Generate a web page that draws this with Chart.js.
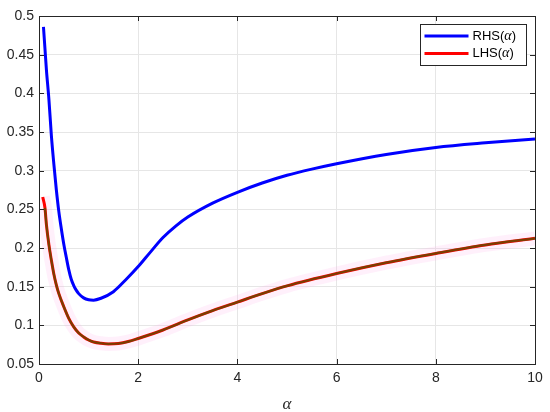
<!DOCTYPE html>
<html>
<head>
<meta charset="utf-8">
<script src="https://cdn.jsdelivr.net/npm/chart.js@4.4.1/dist/chart.umd.min.js"></script>
<style>
  body { margin: 0; background: #fff; }
  #wrap { width: 550px; height: 412px; }
</style>
</head>
<body>
<div id="wrap"><canvas id="rhs-lhs-chart" width="550" height="412"></canvas></div>
<script>
// values
var rhsAlpha = [0.09, 0.12, 0.15, 0.2, 0.25, 0.3, 0.35, 0.4, 0.45, 0.5, 0.55, 0.6, 0.65, 0.7, 0.75, 0.8, 0.9, 1.0, 1.1, 1.25, 1.5, 1.75, 2.0, 2.25, 2.5, 2.75, 3, 3.5, 4, 4.5, 5, 5.5, 6, 7, 8, 9, 10];
var rhsValues = [0.486, 0.458, 0.430, 0.392, 0.345, 0.308, 0.275, 0.247, 0.225, 0.205, 0.188, 0.172, 0.1595, 0.1515, 0.1455, 0.141, 0.1355, 0.133, 0.1325, 0.135, 0.1435, 0.159, 0.176, 0.195, 0.2135, 0.228, 0.240, 0.258, 0.272, 0.284, 0.294, 0.302, 0.309, 0.321, 0.330, 0.336, 0.341];

var lhsAlpha = [0.075, 0.12, 0.15, 0.2, 0.25, 0.3, 0.35, 0.4, 0.5, 0.6, 0.7, 0.8, 0.9, 1.0, 1.1, 1.25, 1.4, 1.6, 1.8, 2.0, 2.5, 3, 3.5, 4, 4.5, 5, 6, 7, 8, 9, 10];
var lhsValues = [0.266, 0.252, 0.230, 0.204, 0.184, 0.166, 0.152, 0.141, 0.124, 0.109, 0.098, 0.090, 0.085, 0.081, 0.0785, 0.0768, 0.076, 0.0765, 0.079, 0.083, 0.094, 0.107, 0.119, 0.130, 0.141, 0.151, 0.167, 0.181, 0.193, 0.204, 0.2125];

var xTicks = [0, 2, 4, 6, 8, 10];
var yTicks = [0.05, 0.1, 0.15, 0.2, 0.25, 0.3, 0.35, 0.4, 0.45, 0.5];
var legendLabels = ['RHS', 'LHS'];

function toPoints(xs, ys) {
	return xs.map((x, i) => ({ x: x, y: ys[i] }));
}

var axisColor = '#262626';
var sans = "'Liberation Sans', Arial, sans-serif";
var serif = "'Liberation Serif', 'DejaVu Serif', serif";

// MATLAB style box with inward ticks, and the legend in the corner
var boxPlugin = {
	id: 'matlabBox',
	afterDraw(chart) {
		var c = chart.ctx, a = chart.chartArea;
		var xs = chart.scales.x, ys = chart.scales.y;
		c.save();
		c.strokeStyle = axisColor;
		c.lineWidth = 1;
		c.strokeRect(Math.round(a.left) + 0.5, Math.round(a.top) + 0.5, Math.round(a.right - a.left), Math.round(a.bottom - a.top));
		c.beginPath();
		xTicks.forEach(v => {
			var px = Math.round(xs.getPixelForValue(v)) + 0.5;
			c.moveTo(px, a.bottom); c.lineTo(px, a.bottom - 5);
			c.moveTo(px, a.top); c.lineTo(px, a.top + 5);
		});
		yTicks.forEach(v => {
			var py = Math.round(ys.getPixelForValue(v)) + 0.5;
			c.moveTo(a.left, py); c.lineTo(a.left + 5, py);
			c.moveTo(a.right, py); c.lineTo(a.right - 5, py);
		});
		c.stroke();

		// legend
		var items = legendLabels.map(l => chart.data.datasets.find(d => d.label === l));
		var bx = Math.round(a.right - 115) + 0.5, by = Math.round(a.top + 8) + 0.5;
		var bw = 106, bh = 41, row = 17.6;
		c.fillStyle = '#fff';
		c.fillRect(bx, by, bw, bh);
		c.strokeStyle = axisColor;
		c.strokeRect(bx, by, bw, bh);
		items.forEach((d, i) => {
			var y = by + 11.5 + i * row;
			c.strokeStyle = d.borderColor;
			c.lineWidth = 3;
			c.beginPath();
			c.moveTo(bx + 4, y); c.lineTo(bx + 48, y);
			c.stroke();
			c.fillStyle = '#000';
			c.textBaseline = 'middle';
			var tx = bx + 52;
			var parts = [[d.label + '(', '13px ' + sans], ['\u03b1', 'italic 14px ' + serif], [')', '13px ' + sans]];
			parts.forEach(p => {
				c.font = p[1];
				c.fillText(p[0], tx, y);
				tx += c.measureText(p[0]).width;
			});
		});
		c.restore();
	}
};

var ctx = document.getElementById('rhs-lhs-chart');

new Chart(ctx, {
	type: 'line',
	data: {
		datasets: [{
			label: '',
			data: toPoints(lhsAlpha.slice(1), lhsValues.slice(1)),
			borderColor: 'rgba(40, 100, 0, 0.62)',
			borderWidth: 2.2,
			order: 0,
		}, {
			label: 'LHS',
			data: toPoints(lhsAlpha, lhsValues),
			borderColor: '#ff0000',
			borderWidth: 3,
			order: 1,
		}, {
			label: 'RHS',
			data: toPoints(rhsAlpha, rhsValues),
			borderColor: '#0000ff',
			borderWidth: 3,
			order: 2,
		}, {
			label: '',
			data: toPoints(lhsAlpha, lhsValues),
			borderColor: 'rgba(255, 170, 235, 0.18)',
			borderWidth: 14,
			order: 3,
		}],
	},
	options: {
		responsive: false,
		animation: false,
		events: [],
		elements: {
			point: { radius: 0 },
			line: { cubicInterpolationMode: 'monotone', borderCapStyle: 'butt' },
		},
		layout: { padding: { top: 16, right: 15, left: 0, bottom: 0 } },
		scales: {
			x: {
				type: 'linear',
				min: 0,
				max: 10,
				afterFit: s => { s.height = 48; },
				afterBuildTicks: s => { s.ticks = xTicks.map(v => ({ value: v })); },
				grid: { color: '#e6e6e6', drawTicks: false },
				border: { display: false },
				ticks: { color: axisColor, padding: 6, font: { family: sans, size: 14 } },
				title: { display: true, text: '\u03b1', color: axisColor, padding: { top: 0, bottom: -3 }, font: { family: serif, style: 'italic', size: 17 } },
			},
			y: {
				type: 'linear',
				min: 0.05,
				max: 0.5,
				afterFit: s => { s.width = 39; },
				afterBuildTicks: s => { s.ticks = yTicks.map(v => ({ value: v })); },
				grid: { color: '#e6e6e6', drawTicks: false },
				border: { display: false },
				ticks: {
					color: axisColor,
					padding: 5,
					font: { family: sans, size: 14 },
					callback: v => String(Number(v.toFixed(2))),
				},
			},
		},
		plugins: {
			legend: { display: false },
			tooltip: { enabled: false },
		}
	},
	plugins: [boxPlugin]
});
</script>
</body>
</html>
